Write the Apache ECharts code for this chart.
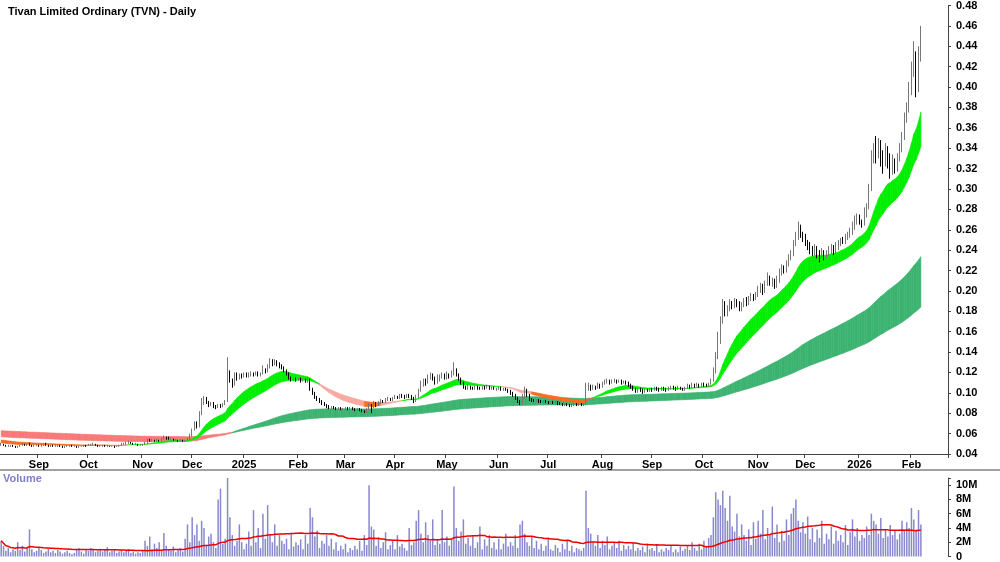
<!DOCTYPE html>
<html><head><meta charset="utf-8">
<script src="https://cdn.jsdelivr.net/npm/echarts@6/dist/echarts.min.js"></script>
<style>html,body{margin:0;padding:0;background:#fff}#c{width:1000px;height:562px}</style>
</head><body><div id="c"></div>
<script>
// OHLC in thousandths: [open, close, low, high], one per trading day from 2024-08-09
const ohlc = [
[49,50,48,51],
[50,49,48,50],[49,48,47,49],[48,48,47,49],[48,49,47,49],[49,48,47,49],
[48,47,46,48],[47,48,46,48],[48,49,47,49],[49,50,48,51],[50,49,48,50],
[49,50,48,50],[50,49,48,51],[49,48,47,49],[48,49,47,49],[49,49,48,50],
[49,48,47,49],[48,49,47,50],[49,50,48,50],[50,49,48,51],[49,48,47,49],
[48,49,47,49],[49,48,47,49],[48,48,47,49],[48,49,47,49],[49,48,47,49],
[48,47,46,48],[47,48,46,48],[48,48,47,49],[48,49,47,49],[49,48,47,49],
[48,48,47,48],[48,47,46,48],[47,47,46,48],[47,48,47,48],[48,49,47,49],
[49,48,47,49],[48,49,48,50],[49,49,48,50],[49,50,48,51],[50,49,48,50],
[49,48,47,49],[48,48,47,49],[48,49,47,49],[49,48,47,49],[48,48,47,49],
[48,47,47,48],[47,48,47,48],[48,47,46,48],[47,48,47,48],[48,49,47,49],
[49,50,48,51],[50,50,49,51],[50,51,49,52],[51,52,50,53],[52,51,50,52],
[51,50,49,51],[50,50,49,51],[50,49,48,50],[49,49,48,50],[49,50,48,50],
[50,51,49,52],[51,54,50,55],[54,53,52,55],[53,54,52,55],[54,53,52,54],
[53,54,52,55],[54,53,52,54],[53,55,52,56],[55,57,54,58],[57,56,54,57],
[56,55,54,57],[55,55,54,56],[55,54,53,55],[54,54,53,55],[54,53,52,54],
[53,54,52,55],[54,53,52,54],[53,53,52,54],[53,55,53,56],[55,58,54,60],
[58,64,57,65],[64,70,63,72],[70,67,65,72],[67,80,66,82],[80,90,78,95],
[90,95,88,97],[95,91,89,96],[91,88,86,92],[88,90,87,91],[90,87,85,91],
[87,86,84,88],[86,88,85,89],[88,87,85,89],[87,89,86,90],[89,92,88,93],
[92,118,91,135],[118,112,110,122],[112,108,105,114],[108,118,107,120],[118,115,112,120],
[115,117,113,119],[117,116,114,119],[116,119,115,120],[119,117,115,120],[117,118,115,120],
[118,119,116,121],[119,118,116,120],[118,120,117,121],[120,117,116,121],[117,119,116,120],
[119,123,118,127],[123,121,119,124],[121,126,120,128],[126,130,124,134],[130,128,126,133],
[128,131,127,133],[131,128,126,132],[128,127,124,130],[127,125,123,128],[125,122,120,126],
[122,119,117,123],[119,115,113,120],[115,113,111,116],[113,114,112,115],[114,113,111,115],
[113,114,112,115],[114,112,110,115],[112,113,111,114],[113,111,110,114],[111,113,110,115],
[113,104,102,114],[104,100,98,105],[100,96,94,101],[96,94,92,97],[94,92,90,95],
[92,90,88,93],[90,88,87,91],[88,87,85,89],[87,85,84,88],[85,86,84,87],
[86,85,84,87],[85,84,83,86],[84,85,83,86],[85,84,83,86],[84,84,83,85],
[84,85,83,86],[85,84,83,86],[84,85,83,86],[85,84,83,86],[84,83,82,85],
[83,84,82,85],[84,83,82,85],[83,82,81,84],[82,81,80,83],[81,84,80,85],
[84,88,83,90],[88,86,80,89],[86,90,85,92],[90,88,86,91],[88,90,87,92],
[90,92,89,94],[92,91,90,93],[91,93,90,95],[93,94,92,96],[94,93,92,95],
[93,95,92,96],[95,96,94,98],[96,95,94,97],[95,98,94,99],[98,97,95,99],
[97,96,94,98],[96,98,95,99],[98,97,95,99],[97,95,93,98],[95,92,90,96],
[92,96,91,98],[96,102,95,104],[102,108,101,112],[108,112,106,114],[112,110,107,114],
[110,115,109,118],[115,118,113,120],[118,114,112,119],[114,110,108,116],[110,113,109,118],
[113,116,111,118],[116,118,114,120],[118,115,113,119],[115,118,113,121],[118,117,114,119],
[117,120,115,122],[120,122,117,130],[122,118,116,124],[118,114,112,119],[114,110,108,115],
[110,106,104,111],[106,104,103,107],[104,106,103,108],[106,105,103,107],[105,104,103,106],
[104,106,103,107],[106,105,103,107],[105,104,103,106],[104,106,103,107],[106,105,103,107],
[105,106,104,108],[106,104,103,107],[104,105,103,106],[105,104,103,106],[104,104,102,105],
[104,105,103,106],[105,103,102,106],[103,104,102,105],[104,103,102,105],[103,102,100,104],
[102,100,98,103],[100,98,96,101],[98,95,93,99],[95,92,90,96],[92,90,88,93],
[90,95,89,99],[95,103,94,106],[103,98,96,104],[98,94,92,99],[94,93,91,95],
[93,92,91,94],[92,93,91,94],[93,92,90,94],[92,91,90,93],[91,92,90,93],
[92,91,90,93],[91,90,89,92],[90,91,89,92],[91,90,89,92],[90,91,89,92],
[91,90,88,92],[90,89,88,91],[89,88,87,90],[88,89,87,90],[89,88,87,90],
[88,87,86,89],[87,88,86,89],[88,89,87,90],[89,88,87,90],[88,89,87,90],
[89,88,87,90],[88,89,87,90],[89,104,88,110],[104,107,102,110],[107,104,102,108],
[104,106,103,108],[106,105,103,107],[105,108,104,110],[108,106,104,109],[106,109,105,111],
[109,111,108,113],[111,112,109,114],[112,110,108,113],[110,111,109,113],[111,112,110,114],
[112,111,109,113],[111,112,110,113],[112,110,108,113],[110,111,109,112],[111,110,108,112],
[110,108,106,111],[108,106,104,109],[106,104,102,107],[104,102,100,105],[102,104,100,105],
[104,103,101,105],[103,101,99,104],[101,103,100,104],[103,102,101,104],[102,104,101,105],
[104,103,101,105],[103,105,102,106],[105,104,102,106],[104,103,101,105],[103,105,102,106],
[105,104,102,106],[104,103,101,105],[103,104,102,106],[104,106,103,107],[106,105,103,107],
[105,104,102,106],[104,105,103,107],[105,104,103,106],[104,103,102,105],[103,105,102,106],
[105,107,104,109],[107,106,104,108],[106,108,105,110],[108,107,105,109],[107,108,106,110],
[108,107,105,109],[107,109,106,110],[109,108,106,110],[108,107,106,109],[107,109,106,110],
[109,112,108,114],[112,120,111,125],[120,135,119,140],[135,150,133,160],[150,170,148,175],
[170,185,168,192],[185,178,175,190],[178,182,175,186],[182,188,180,192],[188,185,182,190],
[185,190,183,193],[190,187,184,192],[187,182,180,190],[182,186,180,189],[186,190,184,193],
[190,188,185,194],[188,192,186,195],[192,195,190,198],[195,193,190,197],[193,196,191,199],
[196,200,194,205],[200,205,198,208],[205,200,196,207],[200,208,198,210],[208,212,205,218],
[212,208,205,215],[208,210,204,213],[210,205,202,212],[205,210,203,215],[210,218,208,222],
[218,222,215,226],[222,220,217,225],[220,226,218,230],[226,232,224,236],[232,236,230,240],
[236,246,234,250],[246,252,244,258],[252,262,250,268],[262,256,252,265],[256,252,248,258],
[252,248,244,256],[248,244,240,250],[244,240,236,248],[240,238,234,244],[238,242,235,246],
[242,236,232,244],[236,234,228,240],[234,238,232,242],[238,234,230,240],[234,237,232,240],
[237,240,234,244],[240,242,236,246],[242,238,235,245],[238,244,236,248],[244,246,240,250],
[246,250,244,252],[250,248,246,253],[248,252,246,256],[252,255,250,258],[255,258,252,262],
[258,262,255,268],[262,270,260,274],[270,272,265,276],[272,268,265,275],[268,265,262,270],
[265,275,264,282],[275,283,272,286],[283,300,280,305],[300,330,298,338],[330,340,325,345],
[340,335,325,352],[335,345,330,350],[345,332,322,348],[332,325,315,338],[325,338,322,345],
[338,330,320,342],[330,316,310,335],[316,328,314,334],[328,320,315,330],[320,330,317,335],
[330,340,327,345],[340,352,336,356],[352,370,348,375],[370,378,365,385],[378,395,375,405],
[395,415,392,425],[415,430,410,445],[430,400,390,435],[400,430,395,440],[430,455,425,460]
];
// volume in millions, one per trading day
const volumes = [
2.2,
1.5,0.8,1.2,0.6,1.0, 0.8,2.0,0.9,1.5,0.7, 1.3,3.8,1.0,0.6,0.8, 1.2,0.9,0.5,0.7,1.1,
0.6,0.8,0.5,0.9,0.7, 0.4,0.6,0.8,0.5,0.3, 0.5,0.9,1.2,0.7,0.4, 1.0,0.8,1.2,0.9,0.6,
0.8,1.1,0.7,0.9,1.3, 0.6,0.8,1.0,0.5,0.7, 0.9,0.6,0.8,1.0,0.5, 0.7,0.4,0.6,0.5,0.8,
2.2,1.5,2.8,1.0,1.8, 1.2,2.0,0.8,3.3,1.5, 1.0,0.8,1.4,0.6,0.9, 1.2,0.7,2.5,4.5,2.0,
5.5,3.0,4.5,2.2,5.0, 4.0,1.5,2.8,3.2,2.0, 1.2,8.0,9.5,1.8,2.5, 11.0,5.5,3.0,1.5,2.2,
4.5,2.0,1.0,1.8,3.5, 1.5,6.5,2.0,4.0,1.2, 6.0,2.5,7.2,3.0,2.0, 4.5,1.5,3.0,2.2,1.8,
2.5,1.0,3.2,1.4,2.0, 1.6,2.4,1.0,3.0,1.8, 6.8,5.5,2.8,3.6,1.2, 2.2,1.8,3.0,1.5,2.5,
1.0,2.0,0.8,1.5,1.0, 1.8,0.6,1.2,0.9,1.5, 1.0,2.2,0.8,3.0,1.6, 10.0,4.2,3.8,1.5,2.6,
1.2,2.0,3.4,1.0,1.6, 2.2,1.0,3.0,1.4,1.8, 1.2,0.8,4.0,1.6,2.0, 5.0,6.5,3.2,2.0,4.8,
3.0,2.2,5.2,1.6,2.4, 1.8,6.5,2.0,2.8,1.5, 2.5,9.8,4.0,2.2,3.5, 5.2,1.8,2.6,1.5,3.0,
1.2,2.0,4.2,1.0,2.4, 1.5,3.0,1.2,2.0,1.0, 2.5,1.0,1.8,3.2,1.4, 2.0,1.5,3.0,1.2,4.5,
5.0,3.2,2.0,1.5,2.8, 1.2,2.2,1.0,1.8,0.8, 1.5,2.6,1.0,0.8,1.6, 1.2,0.6,1.8,1.0,2.2,
0.8,1.5,0.6,1.2,1.0, 0.8,1.2,9.2,4.0,3.2, 2.0,1.5,3.0,1.2,2.2, 1.6,2.8,1.0,1.5,2.0,
1.2,2.2,0.8,1.6,1.0, 1.5,1.0,2.0,0.8,1.2, 0.9,1.4,0.6,1.8,1.0, 1.2,0.8,1.6,0.6,1.0,
0.7,1.2,0.9,1.5,0.6, 1.0,0.6,1.4,0.8,1.1, 1.5,0.9,2.0,1.2,0.8, 1.8,1.0,2.2,1.4,2.6,
3.0,5.5,9.0,8.0,7.2, 9.2,6.8,5.0,8.5,4.2, 3.5,6.0,2.8,4.5,3.0, 2.2,3.8,1.6,4.8,2.5,
5.0,3.2,6.5,2.4,4.0, 3.0,7.0,2.6,4.5,2.0, 3.6,2.2,5.2,3.0,6.0, 6.8,8.0,5.0,3.4,4.8,
3.2,5.6,2.4,4.0,2.0, 3.8,2.6,5.0,1.8,3.2, 2.4,4.2,1.8,3.6,2.2, 3.0,2.0,4.4,1.6,3.4,
5.2,2.8,4.0,2.2,3.0, 2.6,4.2,3.0,6.0,5.0, 4.5,3.2,5.4,2.6,3.8, 2.8,4.4,3.0,3.6,2.4,
3.2,5.0,3.6,4.8,4.0, 6.8,5.2,3.8,6.5,4.5
];
const priceTicks = [0.04,0.06,0.08,0.10,0.12,0.14,0.16,0.18,0.20,0.22,0.24,0.26,0.28,0.30,0.32,0.34,0.36,0.38,0.40,0.42,0.44,0.46,0.48];
const volumeTicks = ['0','2M','4M','6M','8M','10M'];
const monthNames = ['Jan','Feb','Mar','Apr','May','Jun','Jul','Aug','Sep','Oct','Nov','Dec'];
const shortPeriods = [18,20,23,26,29,33];
const longPeriods = [135,150,170,190,215,250];
const shortSeed = [0.051,0.052,0.052,0.053,0.053,0.054];
const longSeed = [0.057,0.058,0.059,0.060,0.061,0.063];
const volMAPeriod = 50;
const emptyDaysAfter = 11;

const n = ohlc.length;
const dates = [];
{ let d = new Date(2024,7,9);
  while (dates.length < n + emptyDaysAfter) { const w = d.getDay(); if (w!==0 && w!==6) dates.push(new Date(d)); d.setDate(d.getDate()+1); } }
const cats = dates.map((d,i)=>String(i));
const firstIdx = new Set();
dates.forEach((d,i)=>{ if (i>0 && i<n+3 && d.getMonth()!==dates[i-1].getMonth()) firstIdx.add(i); });
const labelOf = i => { const d = dates[i]; return d.getMonth()===0 ? String(d.getFullYear()) : monthNames[d.getMonth()]; };

const candle = ohlc.map(r=>r.map(v=>v/1000));
const closes = candle.map(r=>r[1]);
function emaBand(periods, seed){
  const vals = seed.slice(); const lo=[],hi=[],fast=[],slow=[];
  for (let i=0;i<n;i++){
    periods.forEach((p,k)=>{ const a=2/(p+1); vals[k]=vals[k]+a*(closes[i]-vals[k]); });
    lo.push(Math.min(...vals)); hi.push(Math.max(...vals)); fast.push(vals[0]); slow.push(vals[vals.length-1]);
  }
  return {lo,hi,fast,slow};
}
const sb = emaBand(shortPeriods, shortSeed), lb = emaBand(longPeriods, longSeed);
const shortData=[], longData=[];
for (let i=0;i<n-1;i++){
  const sUp = sb.fast[i]>=sb.slow[i];
  const sCol = sUp ? 0 : (sb.lo[i] > lb.hi[i]+0.003 ? 1 : 2);
  shortData.push([i,sb.lo[i],sb.hi[i],sb.lo[i+1],sb.hi[i+1],sCol]);
  longData.push([i,lb.lo[i],lb.hi[i],lb.lo[i+1],lb.hi[i+1], lb.fast[i]>=lb.slow[i]?3:4]);
}
const bandColors = ['#00ee00','#f8a8a0','#ff6a20','#3cb371','#f87878'];
function bandRender(params, api){
  const i=api.value(0);
  const a=api.coord([i,api.value(1)]), b=api.coord([i,api.value(2)]);
  const c=api.coord([i+1,api.value(4)]), d=api.coord([i+1,api.value(3)]);
  const col=bandColors[api.value(5)];
  return {type:'polygon',shape:{points:[a,b,c,d]},style:{fill:col,stroke:col,lineWidth:0.6}};
}
const vol = volumes.map(v=>v*1e6);
const volMA = vol.map((v,i)=>{ const s=Math.max(0,i-volMAPeriod+1); let t=0; for(let j=s;j<=i;j++) t+=vol[j]; return t/(i-s+1); });

const chart = echarts.init(document.getElementById('c'));
const bold = {fontFamily:'Arial, Liberation Sans, sans-serif',fontWeight:'bold',fontSize:11,color:'#000'};
chart.setOption({
  animation:false,
  backgroundColor:'#fff',
  title:{text:'Tivan Limited Ordinary (TVN) - Daily',left:3,top:1,textStyle:{...bold,fontSize:11}},
  graphic:[
    {type:'line',shape:{x1:0,y1:470,x2:1000,y2:470},style:{stroke:'#444',lineWidth:1}},
    {type:'text',left:3,top:473,style:{text:'Volume',fill:'#8080c8',font:'bold 11px Arial, Liberation Sans, sans-serif'}}
  ],
  grid:[{left:0,right:52,top:4,height:450},{left:0,right:52,top:478,height:79}],
  xAxis:[
    {type:'category',data:cats,gridIndex:0,boundaryGap:true,
     axisLine:{lineStyle:{color:'#444'}},
     axisTick:{show:true,interval:(i)=>firstIdx.has(i),length:4,lineStyle:{color:'#444'}},
     axisLabel:{interval:(i)=>firstIdx.has(i),formatter:(v,i)=>labelOf(+v),...bold,margin:5},
     splitLine:{show:false}},
    {type:'category',data:cats,gridIndex:1,boundaryGap:true,axisLine:{show:false},axisTick:{show:false},axisLabel:{show:false}}
  ],
  yAxis:[
    {type:'value',gridIndex:0,position:'right',min:0.04,max:0.48,interval:0.02,
     axisLine:{show:true,lineStyle:{color:'#444'}},axisTick:{show:true,length:3,lineStyle:{color:'#444'}},
     splitLine:{show:false},axisLabel:{...bold,margin:8,formatter:v=>v.toFixed(2)}},
    {type:'value',gridIndex:1,position:'right',min:0,max:11e6,interval:2e6,
     axisLine:{show:true,lineStyle:{color:'#444'}},axisTick:{show:true,length:3,lineStyle:{color:'#444'}},
     splitLine:{show:false},
     axisLabel:{...bold,margin:8,formatter:v=>{const k=Math.round(v/2e6);return (v%2e6===0 && k<volumeTicks.length)?volumeTicks[k]:'';}}}
  ],
  series:[
    {type:'custom',xAxisIndex:0,yAxisIndex:0,renderItem:bandRender,data:longData,z:1,silent:true},
    {type:'custom',xAxisIndex:0,yAxisIndex:0,renderItem:bandRender,data:shortData,z:2,silent:true},
    {type:'candlestick',xAxisIndex:0,yAxisIndex:0,data:candle,barMaxWidth:3,z:3,
     itemStyle:{color:'#ffffff',color0:'#000000',borderColor:'#777',borderColor0:'#000',borderWidth:1}},
    {type:'bar',xAxisIndex:1,yAxisIndex:1,data:vol,barWidth:1.5,itemStyle:{color:'#8888cc'}},
    {type:'line',xAxisIndex:1,yAxisIndex:1,data:volMA,symbol:'none',lineStyle:{color:'#ee0000',width:1.5},z:5}
  ]
});
</script></body></html>
